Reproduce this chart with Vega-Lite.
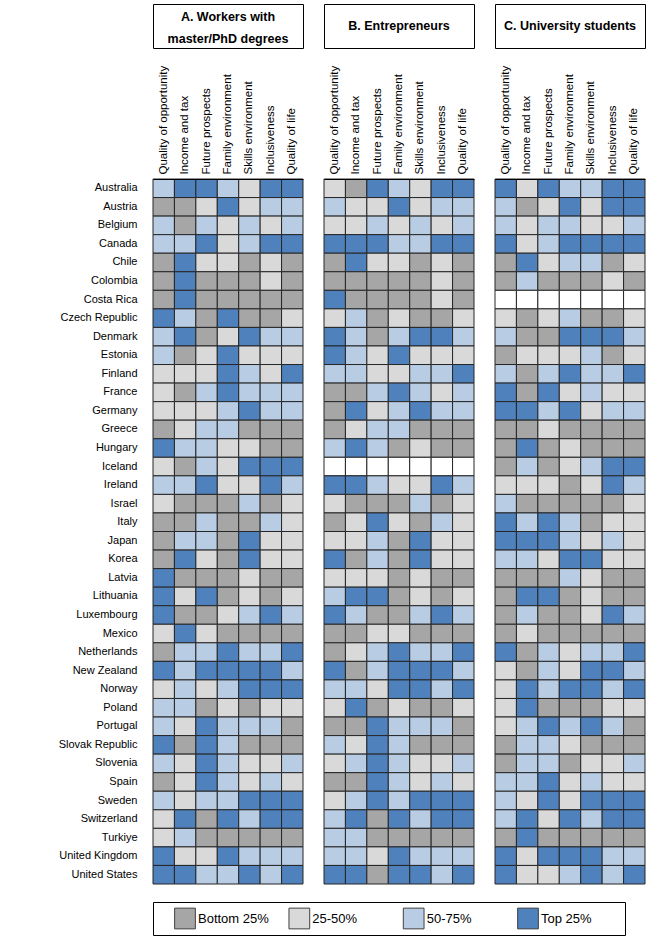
{
"$schema":"https://vega.github.io/schema/vega-lite/v6.json",
"padding":{"left":52,"top":3,"right":5,"bottom":3},
"config":{"font":"Liberation Sans","view":{"stroke":null}},
"datasets":{
"A":[
{"country":"Australia","opp":3,"inc":4,"fut":4,"fam":3,"ski":2,"incl":4,"life":4},
{"country":"Austria","opp":1,"inc":1,"fut":2,"fam":4,"ski":2,"incl":3,"life":3},
{"country":"Belgium","opp":3,"inc":1,"fut":3,"fam":2,"ski":3,"incl":2,"life":3},
{"country":"Canada","opp":3,"inc":3,"fut":4,"fam":2,"ski":3,"incl":4,"life":4},
{"country":"Chile","opp":1,"inc":4,"fut":2,"fam":2,"ski":1,"incl":2,"life":1},
{"country":"Colombia","opp":1,"inc":4,"fut":1,"fam":1,"ski":1,"incl":2,"life":1},
{"country":"Costa Rica","opp":1,"inc":4,"fut":1,"fam":1,"ski":1,"incl":1,"life":1},
{"country":"Czech Republic","opp":4,"inc":3,"fut":1,"fam":4,"ski":1,"incl":1,"life":2},
{"country":"Denmark","opp":3,"inc":4,"fut":1,"fam":2,"ski":4,"incl":3,"life":3},
{"country":"Estonia","opp":3,"inc":1,"fut":2,"fam":4,"ski":2,"incl":2,"life":2},
{"country":"Finland","opp":2,"inc":2,"fut":2,"fam":4,"ski":3,"incl":2,"life":4},
{"country":"France","opp":2,"inc":1,"fut":3,"fam":4,"ski":3,"incl":3,"life":3},
{"country":"Germany","opp":2,"inc":2,"fut":2,"fam":3,"ski":4,"incl":3,"life":3},
{"country":"Greece","opp":1,"inc":2,"fut":3,"fam":3,"ski":1,"incl":1,"life":1},
{"country":"Hungary","opp":4,"inc":3,"fut":3,"fam":2,"ski":2,"incl":1,"life":1},
{"country":"Iceland","opp":2,"inc":1,"fut":3,"fam":2,"ski":4,"incl":4,"life":4},
{"country":"Ireland","opp":3,"inc":3,"fut":4,"fam":2,"ski":2,"incl":4,"life":3},
{"country":"Israel","opp":2,"inc":1,"fut":1,"fam":1,"ski":3,"incl":1,"life":2},
{"country":"Italy","opp":1,"inc":1,"fut":3,"fam":1,"ski":1,"incl":3,"life":2},
{"country":"Japan","opp":1,"inc":3,"fut":3,"fam":1,"ski":4,"incl":2,"life":2},
{"country":"Korea","opp":1,"inc":4,"fut":2,"fam":1,"ski":4,"incl":2,"life":2},
{"country":"Latvia","opp":4,"inc":1,"fut":1,"fam":1,"ski":2,"incl":1,"life":1},
{"country":"Lithuania","opp":4,"inc":2,"fut":4,"fam":1,"ski":2,"incl":1,"life":2},
{"country":"Luxembourg","opp":4,"inc":1,"fut":1,"fam":2,"ski":3,"incl":4,"life":3},
{"country":"Mexico","opp":2,"inc":4,"fut":2,"fam":1,"ski":1,"incl":1,"life":1},
{"country":"Netherlands","opp":1,"inc":3,"fut":3,"fam":4,"ski":3,"incl":3,"life":4},
{"country":"New Zealand","opp":4,"inc":3,"fut":4,"fam":4,"ski":4,"incl":4,"life":3},
{"country":"Norway","opp":2,"inc":3,"fut":2,"fam":3,"ski":4,"incl":4,"life":4},
{"country":"Poland","opp":3,"inc":3,"fut":1,"fam":2,"ski":1,"incl":2,"life":2},
{"country":"Portugal","opp":3,"inc":2,"fut":4,"fam":3,"ski":3,"incl":3,"life":1},
{"country":"Slovak Republic","opp":4,"inc":1,"fut":4,"fam":3,"ski":1,"incl":1,"life":1},
{"country":"Slovenia","opp":3,"inc":2,"fut":4,"fam":3,"ski":2,"incl":2,"life":3},
{"country":"Spain","opp":1,"inc":2,"fut":4,"fam":3,"ski":2,"incl":3,"life":2},
{"country":"Sweden","opp":3,"inc":2,"fut":3,"fam":3,"ski":4,"incl":4,"life":4},
{"country":"Switzerland","opp":2,"inc":4,"fut":1,"fam":4,"ski":3,"incl":4,"life":4},
{"country":"Turkiye","opp":2,"inc":3,"fut":1,"fam":1,"ski":1,"incl":1,"life":1},
{"country":"United Kingdom","opp":4,"inc":2,"fut":2,"fam":4,"ski":3,"incl":3,"life":3},
{"country":"United States","opp":4,"inc":4,"fut":3,"fam":3,"ski":4,"incl":3,"life":4}
],
"B":[
{"country":"Australia","opp":2,"inc":1,"fut":4,"fam":3,"ski":2,"incl":4,"life":4},
{"country":"Austria","opp":3,"inc":2,"fut":2,"fam":4,"ski":2,"incl":3,"life":3},
{"country":"Belgium","opp":2,"inc":2,"fut":3,"fam":2,"ski":3,"incl":2,"life":3},
{"country":"Canada","opp":4,"inc":4,"fut":4,"fam":3,"ski":3,"incl":4,"life":4},
{"country":"Chile","opp":1,"inc":4,"fut":2,"fam":2,"ski":1,"incl":2,"life":1},
{"country":"Colombia","opp":1,"inc":1,"fut":1,"fam":1,"ski":1,"incl":2,"life":1},
{"country":"Costa Rica","opp":4,"inc":1,"fut":1,"fam":1,"ski":1,"incl":2,"life":1},
{"country":"Czech Republic","opp":2,"inc":3,"fut":1,"fam":2,"ski":1,"incl":1,"life":2},
{"country":"Denmark","opp":4,"inc":3,"fut":1,"fam":3,"ski":4,"incl":4,"life":3},
{"country":"Estonia","opp":4,"inc":3,"fut":2,"fam":4,"ski":2,"incl":2,"life":2},
{"country":"Finland","opp":3,"inc":3,"fut":2,"fam":2,"ski":3,"incl":3,"life":4},
{"country":"France","opp":1,"inc":1,"fut":3,"fam":4,"ski":3,"incl":2,"life":3},
{"country":"Germany","opp":1,"inc":4,"fut":2,"fam":3,"ski":4,"incl":3,"life":3},
{"country":"Greece","opp":1,"inc":2,"fut":3,"fam":3,"ski":1,"incl":1,"life":1},
{"country":"Hungary","opp":3,"inc":4,"fut":3,"fam":1,"ski":2,"incl":1,"life":1},
{"country":"Iceland","opp":null,"inc":null,"fut":null,"fam":null,"ski":null,"incl":null,"life":null},
{"country":"Ireland","opp":4,"inc":4,"fut":3,"fam":2,"ski":2,"incl":4,"life":3},
{"country":"Israel","opp":2,"inc":1,"fut":1,"fam":1,"ski":3,"incl":1,"life":2},
{"country":"Italy","opp":1,"inc":2,"fut":4,"fam":2,"ski":1,"incl":3,"life":2},
{"country":"Japan","opp":2,"inc":2,"fut":3,"fam":1,"ski":4,"incl":2,"life":2},
{"country":"Korea","opp":4,"inc":1,"fut":3,"fam":1,"ski":4,"incl":2,"life":2},
{"country":"Latvia","opp":2,"inc":2,"fut":2,"fam":1,"ski":2,"incl":1,"life":1},
{"country":"Lithuania","opp":3,"inc":4,"fut":4,"fam":1,"ski":2,"incl":1,"life":2},
{"country":"Luxembourg","opp":4,"inc":3,"fut":1,"fam":1,"ski":3,"incl":4,"life":3},
{"country":"Mexico","opp":1,"inc":1,"fut":2,"fam":2,"ski":1,"incl":1,"life":1},
{"country":"Netherlands","opp":1,"inc":2,"fut":3,"fam":4,"ski":3,"incl":3,"life":4},
{"country":"New Zealand","opp":4,"inc":1,"fut":3,"fam":4,"ski":4,"incl":4,"life":3},
{"country":"Norway","opp":3,"inc":3,"fut":2,"fam":4,"ski":4,"incl":3,"life":4},
{"country":"Poland","opp":2,"inc":4,"fut":1,"fam":2,"ski":1,"incl":1,"life":2},
{"country":"Portugal","opp":1,"inc":1,"fut":4,"fam":3,"ski":3,"incl":3,"life":1},
{"country":"Slovak Republic","opp":3,"inc":2,"fut":4,"fam":3,"ski":1,"incl":1,"life":1},
{"country":"Slovenia","opp":2,"inc":3,"fut":4,"fam":3,"ski":2,"incl":2,"life":3},
{"country":"Spain","opp":1,"inc":1,"fut":4,"fam":3,"ski":2,"incl":3,"life":2},
{"country":"Sweden","opp":2,"inc":3,"fut":4,"fam":3,"ski":4,"incl":4,"life":4},
{"country":"Switzerland","opp":3,"inc":4,"fut":1,"fam":4,"ski":3,"incl":4,"life":4},
{"country":"Turkiye","opp":3,"inc":3,"fut":1,"fam":1,"ski":1,"incl":1,"life":1},
{"country":"United Kingdom","opp":3,"inc":3,"fut":2,"fam":4,"ski":3,"incl":3,"life":3},
{"country":"United States","opp":4,"inc":4,"fut":1,"fam":4,"ski":4,"incl":3,"life":4}
],
"C":[
{"country":"Australia","opp":4,"inc":2,"fut":4,"fam":3,"ski":3,"incl":4,"life":4},
{"country":"Austria","opp":3,"inc":1,"fut":2,"fam":4,"ski":2,"incl":4,"life":4},
{"country":"Belgium","opp":3,"inc":2,"fut":3,"fam":3,"ski":2,"incl":2,"life":3},
{"country":"Canada","opp":4,"inc":2,"fut":3,"fam":4,"ski":4,"incl":4,"life":4},
{"country":"Chile","opp":1,"inc":4,"fut":2,"fam":3,"ski":3,"incl":1,"life":2},
{"country":"Colombia","opp":1,"inc":3,"fut":1,"fam":1,"ski":1,"incl":2,"life":1},
{"country":"Costa Rica","opp":null,"inc":null,"fut":null,"fam":null,"ski":null,"incl":null,"life":null},
{"country":"Czech Republic","opp":2,"inc":1,"fut":2,"fam":3,"ski":1,"incl":1,"life":2},
{"country":"Denmark","opp":3,"inc":1,"fut":1,"fam":4,"ski":4,"incl":4,"life":3},
{"country":"Estonia","opp":1,"inc":2,"fut":2,"fam":2,"ski":3,"incl":1,"life":2},
{"country":"Finland","opp":3,"inc":1,"fut":3,"fam":4,"ski":3,"incl":3,"life":4},
{"country":"France","opp":4,"inc":1,"fut":4,"fam":2,"ski":3,"incl":2,"life":2},
{"country":"Germany","opp":4,"inc":4,"fut":3,"fam":4,"ski":2,"incl":3,"life":3},
{"country":"Greece","opp":1,"inc":1,"fut":2,"fam":1,"ski":1,"incl":1,"life":1},
{"country":"Hungary","opp":1,"inc":4,"fut":1,"fam":2,"ski":1,"incl":1,"life":1},
{"country":"Iceland","opp":1,"inc":3,"fut":1,"fam":2,"ski":3,"incl":4,"life":4},
{"country":"Ireland","opp":2,"inc":2,"fut":2,"fam":1,"ski":2,"incl":4,"life":3},
{"country":"Israel","opp":3,"inc":1,"fut":1,"fam":1,"ski":1,"incl":1,"life":2},
{"country":"Italy","opp":4,"inc":3,"fut":4,"fam":3,"ski":1,"incl":2,"life":2},
{"country":"Japan","opp":4,"inc":4,"fut":4,"fam":3,"ski":2,"incl":3,"life":2},
{"country":"Korea","opp":3,"inc":3,"fut":2,"fam":4,"ski":4,"incl":2,"life":2},
{"country":"Latvia","opp":1,"inc":1,"fut":1,"fam":3,"ski":2,"incl":1,"life":1},
{"country":"Lithuania","opp":1,"inc":4,"fut":4,"fam":1,"ski":2,"incl":1,"life":1},
{"country":"Luxembourg","opp":1,"inc":3,"fut":1,"fam":1,"ski":2,"incl":4,"life":3},
{"country":"Mexico","opp":1,"inc":2,"fut":1,"fam":1,"ski":1,"incl":1,"life":1},
{"country":"Netherlands","opp":4,"inc":1,"fut":3,"fam":2,"ski":3,"incl":3,"life":4},
{"country":"New Zealand","opp":2,"inc":1,"fut":3,"fam":2,"ski":4,"incl":4,"life":3},
{"country":"Norway","opp":2,"inc":4,"fut":3,"fam":4,"ski":4,"incl":3,"life":4},
{"country":"Poland","opp":2,"inc":4,"fut":1,"fam":1,"ski":1,"incl":2,"life":2},
{"country":"Portugal","opp":2,"inc":3,"fut":4,"fam":3,"ski":4,"incl":3,"life":1},
{"country":"Slovak Republic","opp":1,"inc":3,"fut":3,"fam":2,"ski":1,"incl":1,"life":1},
{"country":"Slovenia","opp":1,"inc":3,"fut":3,"fam":1,"ski":2,"incl":2,"life":3},
{"country":"Spain","opp":3,"inc":3,"fut":4,"fam":2,"ski":3,"incl":2,"life":2},
{"country":"Sweden","opp":3,"inc":2,"fut":4,"fam":2,"ski":4,"incl":4,"life":4},
{"country":"Switzerland","opp":3,"inc":4,"fut":2,"fam":4,"ski":3,"incl":4,"life":4},
{"country":"Turkiye","opp":1,"inc":4,"fut":1,"fam":1,"ski":1,"incl":1,"life":1},
{"country":"United Kingdom","opp":4,"inc":2,"fut":4,"fam":4,"ski":4,"incl":3,"life":3},
{"country":"United States","opp":4,"inc":2,"fut":2,"fam":3,"ski":4,"incl":3,"life":4}
]
},
"spacing":16,
"vconcat":[
{"spacing":16,"vconcat":[
 {"spacing":19,"hconcat":[
  {"width":150,"height":44,"view":{"stroke":"#000","strokeWidth":1},"data":{"values":[{"t":"A. Workers with\nmaster/PhD degrees"}]},"mark":{"type":"text","fontWeight":"bold","fontSize":12.5,"lineBreak":"\n","lineHeight":22,"dy":-9,"color":"#000"},
   "encoding":{"text":{"field":"t"},"y":{"field":"t","type":"nominal","axis":{"title":null,"labels":false,"ticks":false,"domain":false,"grid":false,"minExtent":100,"maxExtent":100}}}},
  {"width":150,"height":44,"view":{"stroke":"#000","strokeWidth":1},"data":{"values":[{"t":"B. Entrepreneurs"}]},"mark":{"type":"text","fontWeight":"bold","fontSize":12.5,"color":"#000"},"encoding":{"text":{"field":"t"}}},
  {"width":150,"height":44,"view":{"stroke":"#000","strokeWidth":1},"data":{"values":[{"t":"C. University students"}]},"mark":{"type":"text","fontWeight":"bold","fontSize":12.5,"color":"#000"},"encoding":{"text":{"field":"t"}}}
 ]},
 {"spacing":19,"hconcat":[
  {"width":150,"height":705,"data":{"name":"A"},
   "transform":[{"fold":["opp","inc","fut","fam","ski","incl","life"],"as":["dim","level"]}],
   "mark":{"type":"rect","stroke":"#262626","strokeWidth":1},
   "encoding":{
    "x":{"field":"dim","type":"nominal","sort":["opp","inc","fut","fam","ski","incl","life"],"scale":{"paddingInner":0,"paddingOuter":0},
     "axis":{"orient":"top","title":null,"labelAngle":-90,"ticks":false,"domainColor":"#000","labelColor":"#000","labelFontSize":11.5,"labelPadding":5,"labelLimit":200,
      "labelExpr":"{'opp':'Quality of opportunity','inc':'Income and tax','fut':'Future prospects','fam':'Family environment','ski':'Skills environment','incl':'Inclusiveness','life':'Quality of life'}[datum.value]"}},
    "y":{"field":"country","type":"nominal","sort":null,"scale":{"paddingInner":0,"paddingOuter":0},
     "axis":{"title":null,"ticks":false,"domain":false,"labelColor":"#000","labelFontSize":11,"labelPadding":16,"labelLimit":200,"minExtent":100,"maxExtent":100}},
    "color":{"condition":{"test":"datum.level === null","value":"#ffffff"},"field":"level","type":"ordinal","scale":{"domain":[1,2,3,4],"range":["#A6A6A6","#D9D9D9","#B8CCE4","#4F81BD"]},"legend":null}
   }},
  {"width":150,"height":705,"data":{"name":"B"},
   "transform":[{"fold":["opp","inc","fut","fam","ski","incl","life"],"as":["dim","level"]}],
   "mark":{"type":"rect","stroke":"#262626","strokeWidth":1},
   "encoding":{
    "x":{"field":"dim","type":"nominal","sort":["opp","inc","fut","fam","ski","incl","life"],"scale":{"paddingInner":0,"paddingOuter":0},
     "axis":{"orient":"top","title":null,"labelAngle":-90,"ticks":false,"domainColor":"#000","labelColor":"#000","labelFontSize":11.5,"labelPadding":5,"labelLimit":200,
      "labelExpr":"{'opp':'Quality of opportunity','inc':'Income and tax','fut':'Future prospects','fam':'Family environment','ski':'Skills environment','incl':'Inclusiveness','life':'Quality of life'}[datum.value]"}},
    "y":{"field":"country","type":"nominal","sort":null,"scale":{"paddingInner":0,"paddingOuter":0},"axis":null},
    "color":{"condition":{"test":"datum.level === null","value":"#ffffff"},"field":"level","type":"ordinal","scale":{"domain":[1,2,3,4],"range":["#A6A6A6","#D9D9D9","#B8CCE4","#4F81BD"]},"legend":null}
   }},
  {"width":150,"height":705,"data":{"name":"C"},
   "transform":[{"fold":["opp","inc","fut","fam","ski","incl","life"],"as":["dim","level"]}],
   "mark":{"type":"rect","stroke":"#262626","strokeWidth":1},
   "encoding":{
    "x":{"field":"dim","type":"nominal","sort":["opp","inc","fut","fam","ski","incl","life"],"scale":{"paddingInner":0,"paddingOuter":0},
     "axis":{"orient":"top","title":null,"labelAngle":-90,"ticks":false,"domainColor":"#000","labelColor":"#000","labelFontSize":11.5,"labelPadding":5,"labelLimit":200,
      "labelExpr":"{'opp':'Quality of opportunity','inc':'Income and tax','fut':'Future prospects','fam':'Family environment','ski':'Skills environment','incl':'Inclusiveness','life':'Quality of life'}[datum.value]"}},
    "y":{"field":"country","type":"nominal","sort":null,"scale":{"paddingInner":0,"paddingOuter":0},"axis":null},
    "color":{"condition":{"test":"datum.level === null","value":"#ffffff"},"field":"level","type":"ordinal","scale":{"domain":[1,2,3,4],"range":["#A6A6A6","#D9D9D9","#B8CCE4","#4F81BD"]},"legend":null}
   }}
 ]}
]},
{"width":472,"height":33,"view":{"stroke":"#000","strokeWidth":1},
 "data":{"values":[{"level":1,"label":"Bottom 25%","row":"legend"},{"level":2,"label":"25-50%","row":"legend"},{"level":3,"label":"50-75%","row":"legend"},{"level":4,"label":"Top 25%","row":"legend"}]},
 "encoding":{"y":{"field":"row","type":"nominal","axis":{"title":null,"labels":false,"ticks":false,"domain":false,"grid":false,"minExtent":100,"maxExtent":100}}},
 "layer":[
  {"mark":{"type":"square","size":430,"opacity":1,"stroke":"#404040","strokeWidth":1},
   "encoding":{"x":{"field":"level","type":"ordinal","scale":{"type":"point","range":[32,375],"padding":0},"axis":null},
    "color":{"field":"level","type":"ordinal","scale":{"domain":[1,2,3,4],"range":["#A6A6A6","#D9D9D9","#B8CCE4","#4F81BD"]},"legend":null}}},
  {"mark":{"type":"text","align":"left","dx":13,"fontSize":13,"color":"#000"},
   "encoding":{"x":{"field":"level","type":"ordinal","axis":null},"text":{"field":"label"}}}
 ]}
]
}
